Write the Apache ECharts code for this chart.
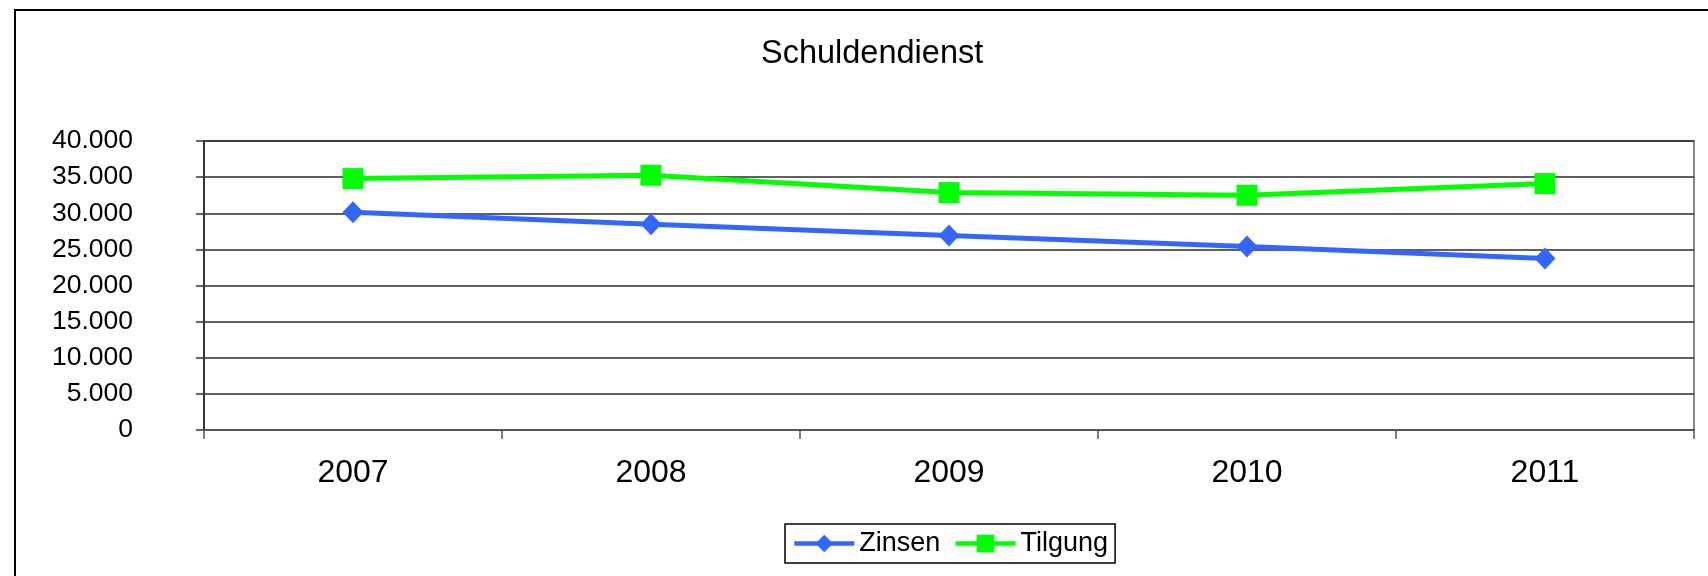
<!DOCTYPE html>
<html>
<head>
<meta charset="utf-8">
<script src="https://cdn.jsdelivr.net/npm/echarts@6/dist/echarts.min.js"></script>
<style>
html,body{margin:0;padding:0;background:#fff;}
#chart{width:1708px;height:576px;}
</style>
</head>
<body>
<div id="chart"></div>
<script>
const categories = ['2007', '2008', '2009', '2010', '2011'];
const zinsen = [30140, 28480, 26910, 25400, 23750];
const tilgung = [34800, 35260, 32860, 32490, 34110];
const yTicks = { min: 0, max: 40000, interval: 5000 };

const FONT = '"Liberation Sans", Arial, Helvetica, sans-serif';
const fmt = v => String(v).replace(/\B(?=(\d{3})+(?!\d))/g, '.');
const BLUE = '#3366FF';
const GREEN = '#00FF00';

const chart = echarts.init(document.getElementById('chart'));
chart.setOption({
  animation: false,
  backgroundColor: '#fff',
  graphic: [{
    type: 'rect',
    shape: { x: 15, y: 10, width: 1800, height: 700 },
    style: { fill: 'none', stroke: '#000', lineWidth: 2 },
    silent: true,
    z: 0
  }],
  title: {
    text: 'Schuldendienst',
    left: 761,
    top: 38,
    padding: 0,
    textStyle: { fontFamily: FONT, fontSize: 32.5, fontWeight: 'normal', color: '#000' }
  },
  legend: {
    data: [
      { name: 'Zinsen', lineStyle: { width: 4.5, color: BLUE }, itemStyle: { color: BLUE } },
      { name: 'Tilgung', lineStyle: { width: 4.5, color: GREEN }, itemStyle: { color: GREEN } }
    ],
    left: 785,
    top: 524,
    padding: [6, 7, 6, 7],
    itemGap: 13,
    itemWidth: 60,
    itemHeight: 22,
    borderColor: '#000',
    borderWidth: 1.5,
    textStyle: { fontFamily: FONT, fontSize: 27, color: '#000' }
  },
  grid: {
    left: 204, right: 14, top: 141, bottom: 146,
    containLabel: false,
    show: true,
    borderColor: '#888',
    borderWidth: 2
  },
  xAxis: {
    type: 'category',
    data: categories,
    boundaryGap: true,
    axisLine: { lineStyle: { color: '#555', width: 2 } },
    axisTick: { show: true, alignWithLabel: false, length: 9, lineStyle: { color: '#555', width: 1.5 } },
    axisLabel: { fontFamily: FONT, fontSize: 32, color: '#000', margin: 27 },
    splitLine: { show: false }
  },
  yAxis: {
    type: 'value',
    min: yTicks.min,
    max: yTicks.max,
    interval: yTicks.interval,
    axisLine: { show: true, lineStyle: { color: '#333', width: 2 } },
    axisTick: { show: true, length: 8, lineStyle: { color: '#333', width: 1.5 } },
    axisLabel: { fontFamily: FONT, fontSize: 26.5, color: '#000', margin: 71, formatter: fmt },
    splitLine: { show: true, lineStyle: { color: '#2a2a2a', width: 1.5 } }
  },
  series: [
    {
      name: 'Zinsen',
      type: 'line',
      data: zinsen,
      symbol: 'diamond',
      symbolSize: [21, 22],
      lineStyle: { color: BLUE, width: 5 },
      itemStyle: { color: BLUE }
    },
    {
      name: 'Tilgung',
      type: 'line',
      data: tilgung,
      symbol: 'rect',
      symbolSize: 21,
      lineStyle: { color: GREEN, width: 5 },
      itemStyle: { color: GREEN }
    }
  ]
});
</script>
</body>
</html>
